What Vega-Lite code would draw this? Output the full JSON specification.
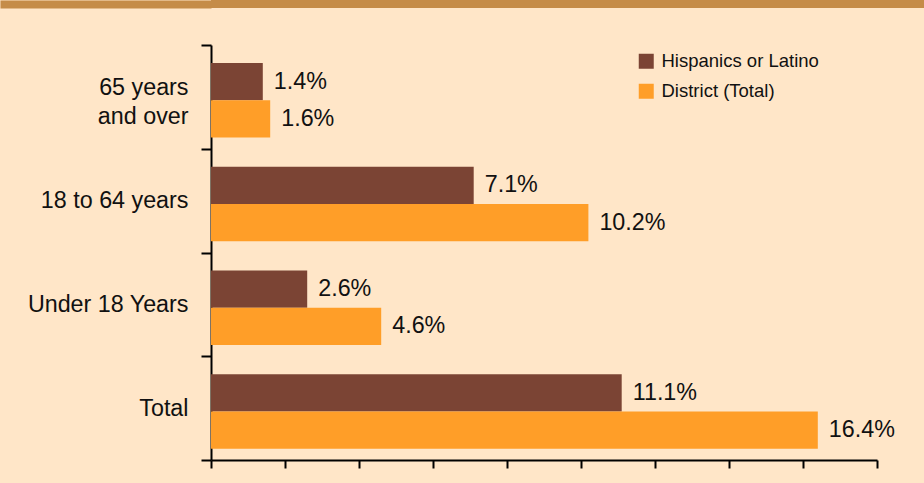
{
  "$schema": "https://vega.github.io/schema/vega-lite/v6.json",
  "background": "#FFE6C8",
  "padding": {"left": -4, "top": 0, "right": 0, "bottom": 20},
  "config": {"font": "Liberation Sans", "view": {"stroke": null}},
  "spacing": 25,
  "vconcat": [
    {
      "width": 713,
      "height": 8,
      "view": {"fill": "#C58C48", "stroke": null},
      "data": {"values": [{"k": "band"}]},
      "mark": {"type": "rect", "color": "#C58C48"},
      "encoding": {
        "y": {
          "field": "k",
          "type": "nominal",
          "title": null,
          "scale": {"paddingInner": 0, "paddingOuter": 0},
          "axis": {
            "labels": false,
            "domain": false,
            "tickSize": 211,
            "tickWidth": 8,
            "tickColor": "#C58C48",
            "minExtent": 211,
            "maxExtent": 211
          }
        }
      }
    },
    {
      "width": 666,
      "height": 415,
      "data": {
        "values": [
          {"group": "65 years and over", "series": "Hispanics or Latino", "value": 0.014},
          {"group": "65 years and over", "series": "District (Total)", "value": 0.016},
          {"group": "18 to 64 years", "series": "Hispanics or Latino", "value": 0.071},
          {"group": "18 to 64 years", "series": "District (Total)", "value": 0.102},
          {"group": "Under 18 Years", "series": "Hispanics or Latino", "value": 0.026},
          {"group": "Under 18 Years", "series": "District (Total)", "value": 0.046},
          {"group": "Total", "series": "Hispanics or Latino", "value": 0.111},
          {"group": "Total", "series": "District (Total)", "value": 0.164}
        ]
      },
      "encoding": {
        "y": {
          "field": "group",
          "type": "nominal",
          "sort": ["65 years and over", "18 to 64 years", "Under 18 Years", "Total"],
          "scale": {"paddingInner": 0, "paddingOuter": 0},
          "title": null,
          "axis": {
            "domainColor": "black",
            "domainWidth": 2,
            "tickColor": "black",
            "tickWidth": 2,
            "tickSize": 10,
            "tickBand": "extent",
            "labelFontSize": 23.3,
            "labelColor": "#111111",
            "labelPadding": 13,
            "labelLineHeight": 29,
            "labelLimit": 300,
            "labelOffset": {"condition": {"test": "datum.value == '65 years and over'", "value": -9}, "value": 0},
            "labelExpr": "datum.label == '65 years and over' ? ['65 years', 'and over'] : datum.label",
            "minExtent": 211,
            "maxExtent": 211
          }
        },
        "yOffset": {
          "field": "series",
          "type": "nominal",
          "sort": ["Hispanics or Latino", "District (Total)"],
          "scale": {"paddingInner": 0, "paddingOuter": 0.393, "align": 0.615}
        },
        "x": {
          "field": "value",
          "type": "quantitative",
          "scale": {"domain": [0, 0.18], "nice": false},
          "title": null,
          "axis": {
            "values": [0, 0.02, 0.04, 0.06, 0.08, 0.1, 0.12, 0.14, 0.16, 0.18],
            "labels": false,
            "grid": false,
            "domainColor": "black",
            "domainWidth": 2,
            "tickColor": "black",
            "tickWidth": 2,
            "tickSize": 8
          }
        }
      },
      "layer": [
        {
          "mark": {"type": "bar"},
          "encoding": {
            "color": {
              "field": "series",
              "type": "nominal",
              "scale": {"domain": ["Hispanics or Latino", "District (Total)"], "range": ["#7B4434", "#FF9E28"]},
              "legend": {
                "orient": "none",
                "legendX": 426,
                "legendY": 52,
                "title": null,
                "symbolType": "square",
                "symbolSize": 225,
                "symbolStrokeWidth": 0,
                "symbolOpacity": 1,
                "labelFontSize": 18.5,
                "labelOffset": 6,
                "rowPadding": 11,
                "labelColor": "#111111",
                "padding": 0
              }
            }
          }
        },
        {
          "mark": {"type": "text", "align": "left", "dx": 11, "fontSize": 23.3, "color": "#111111"},
          "encoding": {
            "text": {"field": "value", "type": "quantitative", "format": ".1%"}
          }
        }
      ]
    }
  ]
}
